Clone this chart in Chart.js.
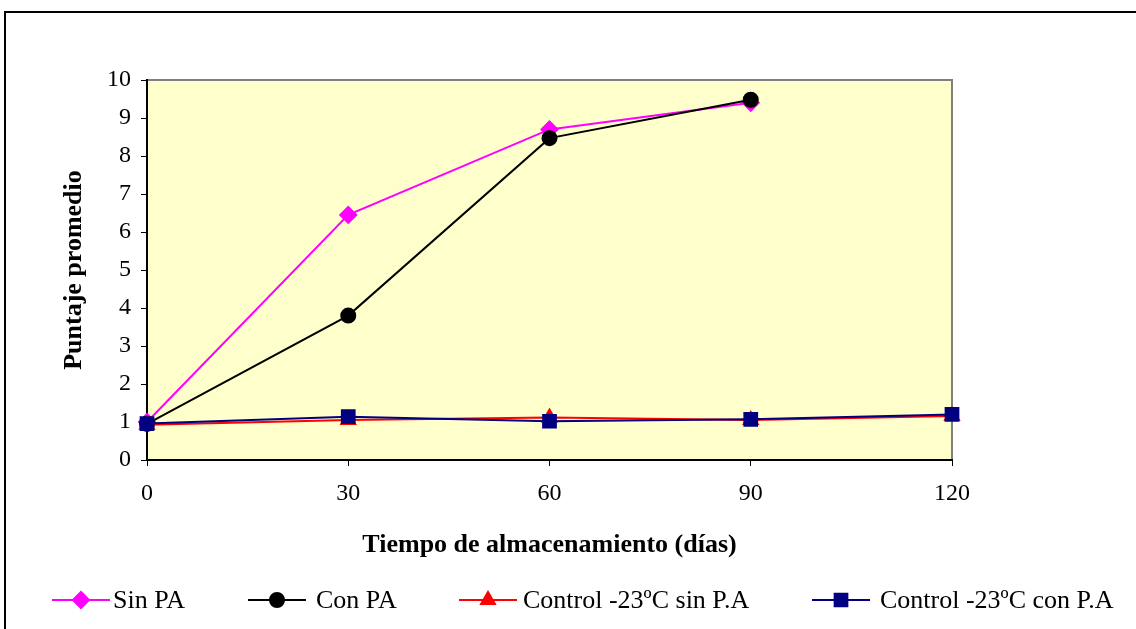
<!DOCTYPE html>
<html lang="es">
<head>
    <meta charset="UTF-8">
    <title>Puntaje promedio vs tiempo de almacenamiento</title>
    <style>
        html, body { margin: 0; padding: 0; background: #fff; }
        .frame {
            position: absolute; left: 4px; top: 11px; width: 1200px; height: 700px;
            border-left: 2px solid #000; border-top: 2px solid #000;
            box-sizing: border-box;
        }
        #chart { position: absolute; left: 0; top: 0; }
    </style>
</head>
<body>
    <div class="frame"></div>
    <canvas id="chart" width="1136" height="629"></canvas>

    <script src="https://cdn.jsdelivr.net/npm/chart.js"></script>
    <script>
        // Tiempo de almacenamiento (días)
        const dias = ['0', '30', '60', '90', '120'];

        // Puntaje promedio por tratamiento
        const sinPA = [1.0, 6.45, 8.7, 9.4, null];
        const conPA = [0.95, 3.8, 8.47, 9.48, null];
        const controlSinPA = [0.93, 1.05, 1.12, 1.05, 1.16];
        const controlConPA = [0.96, 1.14, 1.02, 1.07, 1.2];

        const serif = "'Liberation Serif', 'Times New Roman', serif";

        // fondo amarillo + borde gris arriba/derecha del área de trazado
        const plotBox = {
            id: 'plotBox',
            beforeDraw(chart) {
                const { ctx, chartArea: a } = chart;
                ctx.save();
                ctx.fillStyle = '#FFFFCC';
                ctx.fillRect(a.left, a.top, a.right - a.left, a.bottom - a.top);
                ctx.strokeStyle = '#808080';
                ctx.lineWidth = 2;
                ctx.beginPath();
                ctx.moveTo(a.left, a.top);
                ctx.lineTo(a.right, a.top);
                ctx.lineTo(a.right, a.bottom);
                ctx.stroke();
                ctx.restore();
            }
        };

        // leyenda con línea + marcador, como en Excel
        const lineLegend = {
            id: 'lineLegend',
            afterDraw(chart) {
                const { ctx } = chart;
                const xs = [52, 248, 459, 812];
                const tx = [113, 316, 523, 880];
                const y = 600;
                ctx.save();
                ctx.font = '26px ' + serif;
                ctx.textBaseline = 'middle';
                chart.data.datasets.forEach((ds, i) => {
                    const x = xs[i];
                    ctx.strokeStyle = ds.borderColor;
                    ctx.lineWidth = 2;
                    ctx.beginPath();
                    ctx.moveTo(x, y);
                    ctx.lineTo(x + 58, y);
                    ctx.stroke();
                    ctx.fillStyle = ds.pointBackgroundColor;
                    Chart.helpers.drawPoint(ctx, {
                        pointStyle: ds.pointStyle,
                        radius: ds.pointRadius,
                        borderWidth: 1
                    }, x + 29, y);
                    ctx.fillStyle = '#000';
                    ctx.fillText(ds.label, tx[i], y + 1);
                });
                ctx.restore();
            }
        };

        const radios = { rectRot: 8, circle: 7, triangle: 8, rect: 9 };

        function serie(label, data, color, style, order) {
            return {
                label, data, order,
                borderColor: color,
                backgroundColor: color,
                pointBackgroundColor: color,
                pointBorderColor: color,
                borderWidth: 2,
                pointStyle: style,
                pointRadius: radios[style],
                pointHoverRadius: radios[style],
                tension: 0,
                spanGaps: false
            };
        }

        new Chart(document.getElementById('chart'), {
            type: 'line',
            data: {
                labels: dias,
                datasets: [
                    serie('Sin PA', sinPA, '#FF00FF', 'rectRot', 4),
                    serie('Con PA', conPA, '#000000', 'circle', 3),
                    serie('Control -23ºC sin P.A', controlSinPA, '#FF0000', 'triangle', 2),
                    serie('Control -23ºC con P.A', controlConPA, '#000080', 'rect', 1)
                ]
            },
            options: {
                responsive: false,
                animation: false,
                layout: { padding: { left: 59, top: 80, right: 184, bottom: 68 } },
                plugins: {
                    legend: { display: false },
                    tooltip: { enabled: false }
                },
                scales: {
                    x: {
                        offset: false,
                        afterFit(scale) { scale.height = 101; },
                        grid: {
                            drawOnChartArea: false, drawTicks: true,
                            tickLength: 6, color: '#000'
                        },
                        border: { color: '#000', width: 2 },
                        ticks: {
                            color: '#000', padding: 13, maxRotation: 0,
                            font: { family: serif, size: 24 }
                        },
                        title: {
                            display: true, text: 'Tiempo de almacenamiento (días)',
                            color: '#000', padding: 0,
                            font: { family: serif, size: 26, weight: 'bold' }
                        }
                    },
                    y: {
                        min: 0, max: 10,
                        afterFit(scale) { scale.width = 88; },
                        grid: {
                            drawOnChartArea: false, drawTicks: true,
                            tickLength: 6, color: '#000'
                        },
                        border: { color: '#000', width: 2 },
                        ticks: {
                            stepSize: 1, color: '#000', padding: 10,
                            font: { family: serif, size: 24 }
                        },
                        title: {
                            display: true, text: 'Puntaje promedio',
                            color: '#000', padding: 0,
                            font: { family: serif, size: 26, weight: 'bold' }
                        }
                    }
                }
            },
            plugins: [plotBox, lineLegend]
        });
    </script>
</body>
</html>
